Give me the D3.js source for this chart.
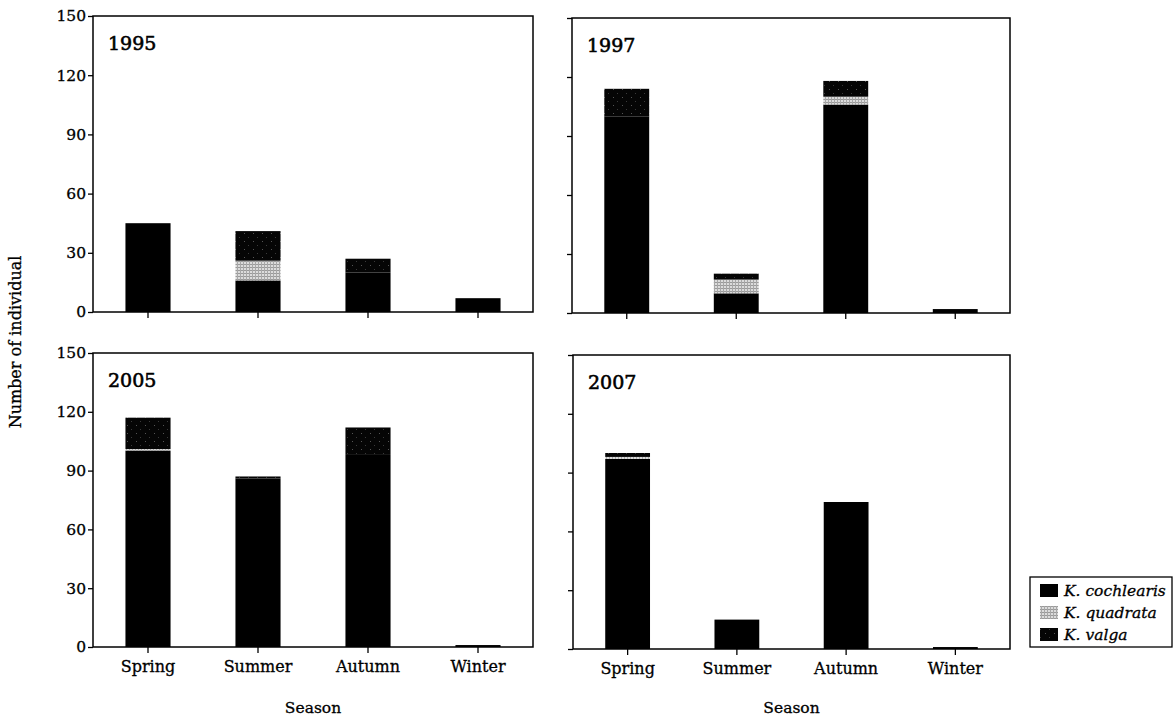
<!DOCTYPE html>
<html>
<head>
<meta charset="utf-8">
<script src="https://cdn.jsdelivr.net/npm/d3@7"></script>
<style>
  body { margin: 0; background: #fff; }
  svg text { font-family: "DejaVu Serif", serif; fill: #000; stroke: #000; stroke-width: 0.3px; }
</style>
</head>
<body>
<script>
// data
const seasons = ["Spring", "Summer", "Autumn", "Winter"];
const years = ["1995", "1997", "2005", "2007"];
const species = ["K. cochlearis", "K. quadrata", "K. valga"];
// one row per year, one value per season
const cochlearis = [
  [45, 16, 20, 7],
  [100, 10, 106, 2],
  [100, 86, 98, 1],
  [97, 15, 75, 1],
];
const quadrata = [
  [0, 10, 0, 0],
  [0, 7, 4, 0],
  [1, 0, 0, 0],
  [1, 0, 0, 0],
];
const valga = [
  [0, 15, 7, 0],
  [14, 3, 8, 0],
  [16, 1, 14, 0],
  [2, 0, 0, 0],
];
const yTicks = [0, 30, 60, 90, 120, 150];

const W = 1174, H = 719;

const svg = d3.select("body").append("svg")
  .attr("width", W).attr("height", H);

// fill patterns
const defs = svg.append("defs");
const pq = defs.append("pattern").attr("id", "pat-quadrata")
  .attr("patternUnits", "userSpaceOnUse").attr("width", 3).attr("height", 3);
pq.append("rect").attr("width", 3).attr("height", 3).attr("fill", "#dcdcdc");
pq.append("rect").attr("width", 3).attr("height", 1).attr("fill", "#9a9a9a");
pq.append("rect").attr("width", 1).attr("height", 3).attr("fill", "#a8a8a8");

const pv = defs.append("pattern").attr("id", "pat-valga")
  .attr("patternUnits", "userSpaceOnUse").attr("width", 9).attr("height", 8);
pv.append("rect").attr("width", 9).attr("height", 8).attr("fill", "#050505");
pv.append("rect").attr("x", 1).attr("y", 1).attr("width", 1).attr("height", 1).attr("fill", "#555");
pv.append("rect").attr("x", 5).attr("y", 5).attr("width", 1).attr("height", 1).attr("fill", "#3a3a3a");

const fills = {
  "K. cochlearis": "#000",
  "K. quadrata": "url(#pat-quadrata)",
  "K. valga": "url(#pat-valga)",
};

// panel frames (left, top, right, bottom)
const panels = [
  { x0: 93, y0: 16, x1: 533, y1: 312, labels: true },
  { x0: 572, y0: 18, x1: 1010, y1: 313, labels: false },
  { x0: 93, y0: 353, x1: 533, y1: 647, labels: true },
  { x0: 573, y0: 355, x1: 1010, y1: 649, labels: false },
];

const stack = d3.stack().keys(species);

years.forEach((year, i) => {
  const p = panels[i];
  const rows = seasons.map((s, j) => ({
    season: s,
    "K. cochlearis": cochlearis[i][j],
    "K. quadrata": quadrata[i][j],
    "K. valga": valga[i][j],
  }));

  const x = d3.scaleBand().domain(seasons)
    .range([p.x0, p.x1]).paddingInner(0.59).paddingOuter(0.295);
  const y = d3.scaleLinear().domain([0, 150]).range([p.y1, p.y0]);

  const g = svg.append("g");

  // bars
  g.selectAll("g.layer")
    .data(stack(rows))
    .enter()
    .append("g")
    .attr("class", "layer")
    .attr("fill", (d) => fills[d.key])
    .selectAll("rect")
    .data((d) => d)
    .enter()
    .append("rect")
    .attr("x", (d) => x(d.data.season))
    .attr("width", x.bandwidth())
    .attr("y", (d) => y(d[1]))
    .attr("height", (d) => y(d[0]) - y(d[1]));

  // frame
  g.append("rect")
    .attr("x", p.x0).attr("y", p.y0)
    .attr("width", p.x1 - p.x0).attr("height", p.y1 - p.y0)
    .attr("fill", "none").attr("stroke", "#000").attr("stroke-width", 1.5);

  // y axis
  const yAxis = d3.axisLeft(y).tickValues(yTicks).tickSize(5).tickPadding(2)
    .tickFormat(p.labels ? d3.format("d") : "");
  const ya = g.append("g").attr("transform", `translate(${p.x0},0)`).call(yAxis);
  ya.select(".domain").remove();
  ya.selectAll("line").attr("stroke-width", 1.3);
  ya.selectAll("text").style("font-size", "15.5px").attr("fill", "#000");

  // x axis
  const xAxis = d3.axisBottom(x).tickSize(6).tickPadding(8)
    .tickFormat(i >= 2 ? (d) => d : "");
  const xa = g.append("g").attr("transform", `translate(0,${p.y1})`).call(xAxis);
  xa.select(".domain").remove();
  xa.selectAll("line").attr("stroke-width", 1.3);
  xa.selectAll("text").style("font-size", "16px").attr("fill", "#000");

  // year label
  g.append("text")
    .attr("x", p.x0 + 15).attr("y", p.y0 + 34)
    .style("font-size", "19px")
    .style("stroke-width", "0.6px")
    .text(year);

  // x axis title
  if (i >= 2) {
    g.append("text")
      .attr("x", (p.x0 + p.x1) / 2).attr("y", 713)
      .attr("text-anchor", "middle")
      .style("font-size", "15.5px")
      .text("Season");
  }
});

// y axis title
svg.append("text")
  .attr("transform", "translate(21,342) rotate(-90)")
  .attr("text-anchor", "middle")
  .style("font-size", "16px")
  .text("Number of individual");

// legend
const legend = svg.append("g");
legend.append("rect")
  .attr("x", 1030).attr("y", 577).attr("width", 142).attr("height", 70)
  .attr("fill", "#fff").attr("stroke", "#000").attr("stroke-width", 1.3);

legend.selectAll("rect.key")
  .data(species)
  .enter()
  .append("rect")
  .attr("class", "key")
  .attr("x", 1040)
  .attr("y", (d, i) => 584 + i * 22)
  .attr("width", 18).attr("height", 13)
  .attr("fill", (d) => fills[d]);

legend.selectAll("text.key")
  .data(species)
  .enter()
  .append("text")
  .attr("class", "key")
  .attr("x", 1064)
  .attr("y", (d, i) => 596 + i * 22)
  .style("font-size", "15.5px")
  .style("font-style", "italic")
  .text((d) => d);
</script>
</body>
</html>
